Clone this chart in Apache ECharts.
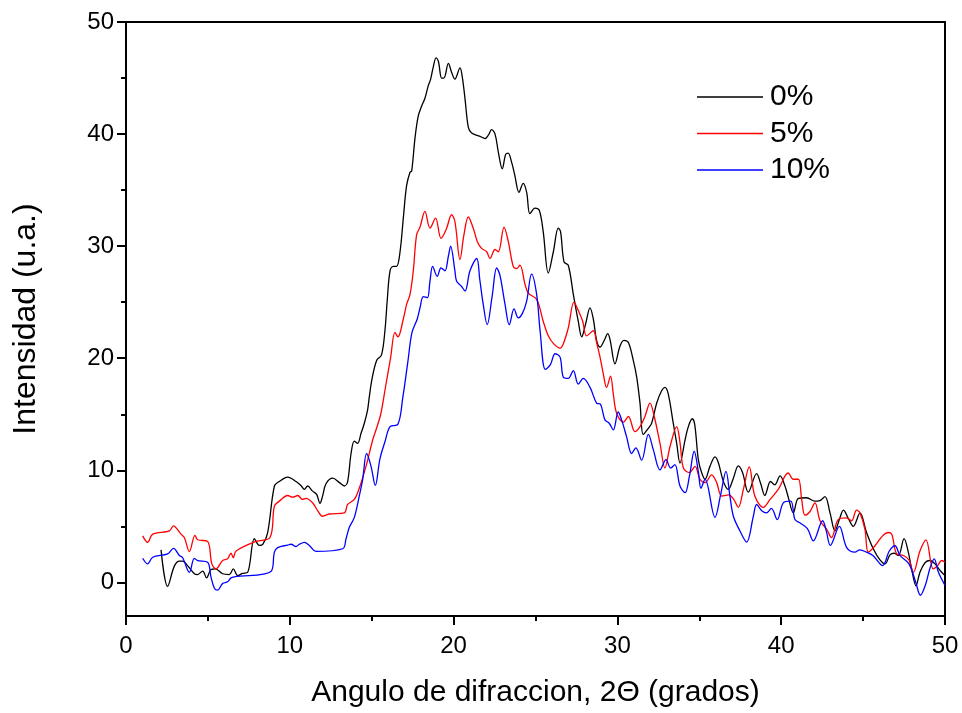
<!DOCTYPE html>
<html>
<head>
<meta charset="utf-8">
<script src="https://cdn.jsdelivr.net/npm/echarts@6/dist/echarts.min.js"></script>
<style>
  html, body { margin: 0; padding: 0; background: #fff; }
  #chart { width: 962px; height: 713px; }
</style>
</head>
<body>
<div id="chart"></div>
<script>
// XRD traces: angle (2Θ) and intensity per sample
const x0 = [2.14,2.54,2.95,3.26,3.46,3.76,4.17,4.37,4.68,4.92,5.19,5.45,5.9,6.3,6.55,6.82,7.1,7.43,7.84,8.14,8.35,8.65,9.06,9.36,9.87,10.38,10.68,10.89,11.09,11.39,11.64,11.84,12.0,12.21,12.62,13.03,13.33,13.53,13.74,13.94,14.14,14.35,14.55,14.75,14.85,15.0,15.3,15.6,15.81,15.95,16.12,16.32,16.52,16.73,16.93,17.13,17.34,17.44,17.64,17.84,18.05,18.25,18.45,18.6,18.76,18.93,19.07,19.27,19.41,19.68,19.88,20.08,20.39,20.54,20.7,20.9,21.1,21.61,21.92,22.12,22.32,22.53,22.73,22.97,23.18,23.33,23.54,23.74,23.99,24.25,24.46,24.66,24.97,25.23,25.47,25.78,26.09,26.39,26.53,26.74,27.0,27.31,27.61,27.82,28.05,28.33,28.53,28.73,28.94,29.2,29.41,29.56,29.85,30.16,30.4,30.67,30.97,31.18,31.38,31.58,31.89,32.09,32.4,32.7,32.9,33.1,33.41,33.62,33.82,34.13,34.33,34.57,34.72,34.94,35.14,35.35,35.65,35.96,36.16,36.47,36.77,37.08,37.38,37.64,37.99,38.5,38.75,39.0,39.35,39.6,39.93,40.23,40.43,40.74,41.05,41.55,42.06,42.36,42.67,42.98,43.28,43.55,43.8,44.1,44.4,44.81,45.21,45.62,46.03,46.34,46.64,46.9,47.15,47.5,47.76,47.96,48.23,48.47,48.78,49.08,49.39,49.7,50];
const y0 = [2.9,-0.35,1.45,1.9,1.9,1.5,0.77,0.7,1.0,0.4,1.15,1.2,0.77,0.7,1.2,0.6,0.8,0.9,3.9,3.3,3.4,4.45,8.6,9.0,9.4,9.0,8.65,8.3,8.6,8.14,7.85,7.05,7.7,8.8,9.3,8.9,8.6,9.0,11.5,12.6,12.4,13.3,14.2,15.4,16.5,18.0,19.8,20.3,22.5,25.2,27.8,28.2,28.2,29.5,32.5,35.4,36.6,36.7,39.6,41.6,42.5,43.2,44.3,44.9,46.0,46.8,46.5,45.0,45.0,46.3,45.5,44.9,45.9,45.0,43.1,40.6,40.1,39.8,39.6,39.9,40.4,40.0,38.4,36.9,38.2,38.3,37.5,36.3,34.8,35.6,34.8,32.9,33.4,33.2,31.3,27.6,29.5,31.6,31.3,28.6,28.3,25.7,23.3,21.9,23.0,24.5,23.5,21.6,21.0,21.6,22.2,21.6,19.5,21.1,21.6,21.4,19.8,18.3,16.0,13.2,13.75,14.2,16.0,17.1,17.4,16.85,14.2,12.4,10.65,12.7,13.9,14.6,14.1,10.95,9.8,9.2,10.35,11.2,10.7,9.0,8.3,9.3,10.4,9.8,8.05,9.7,8.8,7.76,9.0,8.7,9.5,8.6,7.6,6.2,7.5,7.55,7.25,7.3,7.65,6.2,4.6,5.6,6.45,5.7,5.0,6.2,4.45,3.0,2.0,1.65,2.45,2.6,2.4,3.9,2.7,1.2,-0.3,0.9,1.75,1.95,1.65,1.06,0.6];

const x5 = [1.02,1.32,1.63,2.65,2.9,3.1,3.36,3.56,3.87,4.21,4.37,4.98,5.24,5.49,5.9,6.2,6.41,6.55,6.72,7.94,8.79,9.06,9.36,9.87,10.18,10.48,10.78,10.99,11.39,11.7,12.0,12.41,13.33,13.53,13.94,14.24,14.65,15.06,15.26,15.55,15.85,16.15,16.42,16.6,16.93,17.13,17.34,17.54,17.74,17.95,18.25,18.56,18.9,19.23,19.55,19.88,20.08,20.39,20.63,20.9,21.2,21.45,21.71,22.02,22.22,22.53,22.73,23.08,23.34,23.64,23.85,24.05,24.36,24.56,25.07,25.47,25.78,26.1,26.5,26.7,27.0,27.35,27.6,27.88,28.12,28.53,28.73,28.94,29.14,29.34,29.58,29.75,29.95,30.36,30.67,31.07,31.38,31.68,31.99,32.25,32.6,32.9,33.21,33.62,33.82,34.03,34.4,34.74,35.04,35.35,35.75,36.06,36.37,36.8,37.1,37.38,37.69,38.05,38.39,38.91,39.32,39.82,40.43,40.74,41.05,41.25,41.45,41.75,42.06,42.37,42.77,43.07,43.48,43.97,44.3,44.6,44.81,45.11,45.32,45.73,46.19,46.54,46.75,47.05,47.46,47.8,48.07,48.47,48.84,49.28,49.55,49.8,50];
const y5 = [4.15,3.57,4.3,4.6,5.04,4.8,4.3,4.0,2.75,4.2,3.8,3.66,1.65,1.2,1.95,2.1,2.6,2.2,2.8,3.66,4.0,6.8,7.25,7.75,7.6,7.75,7.4,7.5,7.1,6.4,5.9,6.1,6.2,6.95,7.4,8.4,10.35,12.7,13.6,15.0,17.5,20.0,22.3,21.9,23.5,24.8,25.7,27.8,31.0,31.7,33.1,31.6,32.5,30.7,31.5,32.8,32.2,28.8,31.0,32.6,31.6,30.4,29.8,29.5,28.9,29.7,29.5,31.7,30.4,28.2,28.0,28.3,26.6,25.8,25.25,23.3,22.0,21.3,20.9,21.3,22.7,25.0,24.3,23.3,22.0,22.45,21.4,20.1,18.6,17.4,18.4,16.8,15.1,14.3,14.8,13.45,13.9,14.8,16.0,14.8,12.4,10.2,12.1,13.9,12.5,10.2,9.8,10.35,9.2,8.9,9.6,8.9,7.7,7.8,7.4,6.7,8.3,10.3,7.7,6.7,7.4,8.3,9.76,9.2,9.2,7.4,6.0,6.3,7.1,5.5,4.75,4.0,5.6,5.75,5.5,6.45,6.2,4.75,2.7,3.27,4.15,4.45,4.3,2.54,2.4,2.0,0.9,2.8,3.8,1.2,1.5,1.95,1.8];

const x10 = [1.02,1.32,1.63,2.54,2.9,3.26,3.46,3.87,4.17,4.37,4.98,5.19,5.39,5.59,5.9,6.2,6.41,6.61,8.85,9.06,9.26,9.87,10.08,10.38,10.58,10.89,11.19,11.6,13.23,13.43,13.63,13.94,14.24,14.45,14.69,14.96,15.22,15.5,15.8,16.12,16.6,16.9,17.2,17.46,17.78,17.95,18.15,18.4,18.56,18.72,19.0,19.23,19.47,19.68,19.82,20.08,20.18,20.49,20.7,21.0,21.41,21.6,21.81,22.05,22.35,22.63,22.83,23.14,23.4,23.69,23.95,24.2,24.46,24.76,25.07,25.28,25.6,25.9,26.2,26.5,26.7,27.0,27.31,27.61,27.92,28.33,28.73,28.97,29.24,29.5,29.75,30.05,30.3,30.56,30.87,31.13,31.48,31.89,32.2,32.6,32.97,33.25,33.51,33.82,34.13,34.4,34.69,34.95,35.1,35.35,35.96,36.3,36.63,36.87,37.08,37.48,37.89,38.3,38.5,38.81,39.1,39.4,39.76,40.13,40.58,40.84,41.16,41.6,41.96,42.53,42.75,43.0,43.55,44.0,44.5,44.8,45.21,45.6,46.19,46.6,46.95,47.25,47.8,48.21,48.5,48.8,49.1,49.34,49.6,50];
const y10 = [2.15,1.65,2.24,2.54,3.04,2.4,2.2,0.9,2.15,1.95,1.8,0.47,-0.5,-0.7,-0.1,0.05,0.4,0.5,0.97,2.7,3.1,3.33,3.4,3.2,3.4,3.57,3.3,2.77,3.0,3.87,4.9,5.8,7.7,9.2,11.5,10.35,8.65,11.0,12.5,13.9,14.1,16.5,19.6,22.3,23.5,24.5,25.5,25.4,26.9,28.2,27.3,28.05,27.8,29.1,30.0,27.8,26.9,26.4,26.0,27.8,28.9,27.0,24.8,23.0,25.5,28.05,27.4,24.8,23.0,24.4,23.6,24.0,25.1,27.5,25.7,22.45,19.0,19.4,20.4,20.1,18.3,18.2,18.9,17.7,18.2,17.4,16.0,15.9,14.5,14.2,13.6,15.2,14.3,13.0,11.5,12.0,10.9,13.2,11.8,10.05,10.95,10.2,10.5,8.6,8.0,9.5,11.7,9.8,8.4,9.2,5.8,7.8,9.9,7.7,5.9,4.6,3.6,5.9,6.95,6.4,6.2,6.6,5.6,7.1,7.25,5.6,5.3,4.8,3.7,5.5,4.6,3.3,5.0,3.1,2.7,2.9,2.7,2.4,1.5,2.8,3.27,2.4,1.65,0.03,-1.15,-0.26,1.35,2.1,0.9,-0.27];

const seriesNames = ['0%', '5%', '10%'];
const seriesColors = ['#000000', '#ff0000', '#0000ff'];
const yMajorTicks = [0, 10, 20, 30, 40, 50];
const yMinorTicks = [5, 15, 25, 35, 45];

const zip = (xs, ys) => xs.map((x, i) => [x, ys[i]]);
const traces = [zip(x0, y0), zip(x5, y5), zip(x10, y10)];

const chart = echarts.init(document.getElementById('chart'));
const font = 'Liberation Sans, Arial, sans-serif';

const option = {
  animation: false,
  textStyle: { fontFamily: font },
  grid: {
    left: 126, right: 17, top: 22, bottom: 93,
    show: true, borderColor: '#000', borderWidth: 2, backgroundColor: 'transparent'
  },
  legend: {
    orient: 'vertical',
    left: 697, top: 82, padding: 0,
    itemWidth: 66, itemHeight: 1.5, itemGap: 6.5,
    icon: 'rect',
    textStyle: { fontSize: 30, lineHeight: 30, color: '#000', fontFamily: font, padding: [0, 0, 0, 2] },
    data: seriesNames
  },
  xAxis: {
    type: 'value',
    min: 0, max: 50, interval: 10,
    name: 'Angulo de difraccion, 2\u0398 (grados)',
    nameLocation: 'middle', nameGap: 62,
    nameTextStyle: { fontSize: 30, color: '#000' },
    axisLine: { onZero: false, lineStyle: { color: '#000', width: 2 } },
    axisTick: { inside: false, length: 9, lineStyle: { color: '#000', width: 2 } },
    minorTick: { show: true, splitNumber: 2, length: 5, lineStyle: { color: '#000', width: 2 } },
    axisLabel: { fontSize: 24, color: '#000', margin: 18 },
    splitLine: { show: false }
  },
  yAxis: [{
    type: 'value',
    min: -3, max: 50,
    name: 'Intensidad (u.a.)',
    nameLocation: 'middle', nameGap: 84, nameRotate: 90,
    nameTextStyle: { fontSize: 32, color: '#000' },
    axisLine: { onZero: false, lineStyle: { color: '#000', width: 2 } },
    axisTick: { length: 9, customValues: yMajorTicks, lineStyle: { color: '#000', width: 2 } },
    axisLabel: { fontSize: 24, color: '#000', margin: 12, customValues: yMajorTicks },
    splitLine: { show: false }
  }, {
    type: 'value',
    position: 'left',
    min: -3, max: 50,
    axisLine: { show: false },
    axisTick: { length: 5, customValues: yMinorTicks, lineStyle: { color: '#000', width: 2 } },
    axisLabel: { show: false },
    splitLine: { show: false }
  }],
  series: traces.map((data, i) => ({
    name: seriesNames[i],
    type: 'line',
    data: data,
    showSymbol: false,
    symbol: 'none',
    smooth: 0.35,
    color: seriesColors[i],
    lineStyle: { color: seriesColors[i], width: 1.3 }
  }))
};

chart.setOption(option);
</script>
</body>
</html>
